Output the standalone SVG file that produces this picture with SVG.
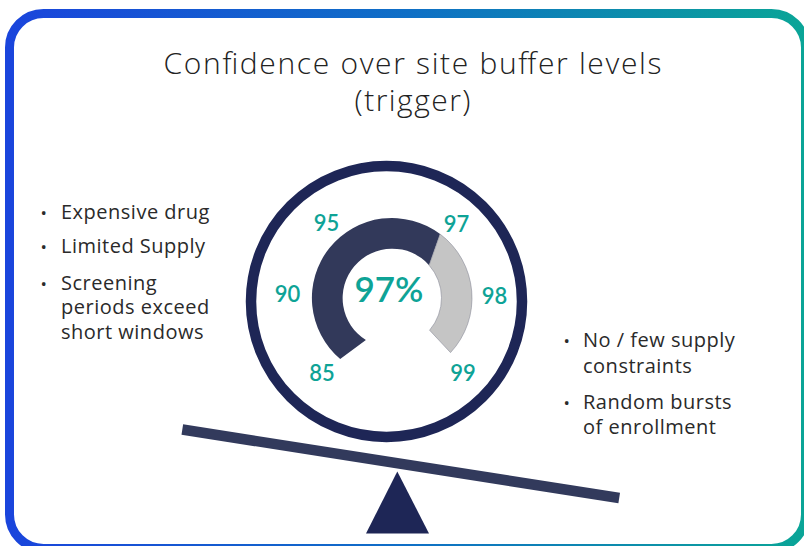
<svg xmlns="http://www.w3.org/2000/svg" width="804" height="546" viewBox="0 0 804 546">
  <defs>
    <linearGradient id="frameGrad" x1="0" y1="0" x2="1" y2="0">
      <stop offset="0" stop-color="#1a45dc"/>
      <stop offset="0.5" stop-color="#0f6fc6"/>
      <stop offset="1" stop-color="#0aa597"/>
    </linearGradient>
  </defs>
  <style>
    .title { font-family: "Open Sans", "Noto Sans", sans-serif; font-weight: 300; font-size: 30px; fill: #222222; text-anchor: middle; }
    .bullet { font-family: "Open Sans", "Noto Sans", sans-serif; font-size: 20px; letter-spacing: 0.5px; fill: #2a2a2a; }
    .dot { font-family: "Open Sans", "Noto Sans", sans-serif; font-size: 17px; fill: #2a2a2a; }
    .tick { font-family: Lato, "Open Sans", sans-serif; font-weight: 600; font-size: 22px; fill: #0ea396; text-anchor: middle; }
    .big { font-family: Lato, "Open Sans", sans-serif; font-weight: 600; font-size: 35px; fill: #0ea396; text-anchor: middle; }
    .navy { fill: #1e2656; }
  </style>

  <rect id="background" x="0" y="0" width="804" height="546" fill="#ffffff"/>
  <g id="frame">
    <rect x="9.5" y="13.5" width="796" height="535" rx="34" ry="34" fill="#ffffff" stroke="url(#frameGrad)" stroke-width="9"/>
  </g>

  <g id="title">
    <text class="title" x="412.5" y="74" textLength="498" lengthAdjust="spacing">Confidence over site buffer levels</text>
    <text class="title" x="412.5" y="111" textLength="116" lengthAdjust="spacing">(trigger)</text>
  </g>

  <g id="left-bullets">
    <text class="dot" x="40.5" y="218.5">•</text>
    <text class="bullet" x="61" y="218.5">Expensive drug</text>
    <text class="dot" x="40.5" y="252.5">•</text>
    <text class="bullet" x="61" y="252.5">Limited Supply</text>
    <text class="dot" x="40.5" y="289.5">•</text>
    <text class="bullet" x="61" y="289.5">Screening</text>
    <text class="bullet" x="61" y="314">periods exceed</text>
    <text class="bullet" x="61" y="338.5">short windows</text>
  </g>

  <g id="right-bullets">
    <text class="dot" x="563.5" y="347">•</text>
    <text class="bullet" x="583" y="347">No / few supply</text>
    <text class="bullet" x="583" y="372.5">constraints</text>
    <text class="dot" x="563.5" y="408.5">•</text>
    <text class="bullet" x="583" y="408.5">Random bursts</text>
    <text class="bullet" x="583" y="433.5">of enrollment</text>
  </g>

  <g id="gauge">
    <circle cx="386.5" cy="301.5" r="135.5" fill="none" stroke="#1e2656" stroke-width="10.5"/>
    <path d="M 340.2 359 A 80 80 0 0 1 440.1 234.1 L 429.1 265.2 A 49.5 49.5 0 1 0 365.9 340.1 Z" fill="#32395a"/>
    <path d="M 440.1 234.1 A 80 80 0 0 1 450.5 352.6 L 429.6 330.2 A 49.5 49.5 0 0 0 429.1 265.2 Z" fill="#c5c5c5" stroke="#8a8c99" stroke-width="0.6"/>
    <text class="big" x="389" y="302">97%</text>
    <text class="tick" x="326.5" y="231">95</text>
    <text class="tick" x="456.5" y="232">97</text>
    <text class="tick" x="287.5" y="302">90</text>
    <text class="tick" x="494.5" y="303.5">98</text>
    <text class="tick" x="322" y="381">85</text>
    <text class="tick" x="463" y="381">99</text>
  </g>

  <g id="seesaw">
    <line x1="182.3" y1="429.5" x2="619.2" y2="498" stroke="#323a5c" stroke-width="10.6"/>
    <polygon class="navy" points="397.3,471.5 366,533.5 429,533.5"/>
  </g>
</svg>
